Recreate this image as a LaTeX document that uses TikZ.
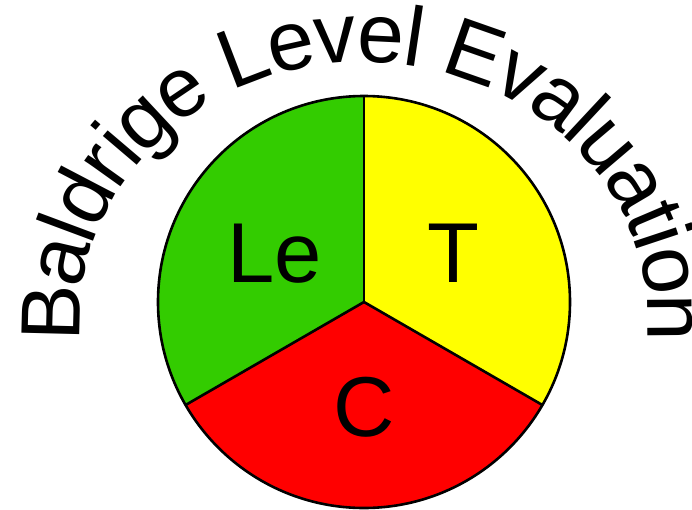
\documentclass[tikz,border=0pt]{standalone}
\usepackage{fontspec}
\setmainfont{Liberation Sans}
\usetikzlibrary{decorations.text,calc}
\definecolor{segGreen}{HTML}{33CC00}
\definecolor{segYellow}{HTML}{FFFF00}
\definecolor{segRed}{HTML}{FF0000}
\tikzset{
  sector/.style={draw=black, line width=2.6pt, line join=round},
  biglabel/.style={font=\fontsize{85pt}{96pt}\selectfont, inner sep=0pt, anchor=base}
}
\begin{document}
\begin{tikzpicture}[x=1pt,y=1pt]
\useasboundingbox (-364,-207) rectangle (328,302);
\coordinate (ctr) at (0,0);
\coordinate (ectr) at (0,-18);
\def\R{206}
% sectors
\fill[segGreen] (ctr) -- (90:\R) arc[start angle=90, end angle=210, radius=\R] -- cycle;
\fill[segYellow] (ctr) -- (-30:\R) arc[start angle=-30, end angle=90, radius=\R] -- cycle;
\fill[segRed] (ctr) -- (210:\R) arc[start angle=210, end angle=330, radius=\R] -- cycle;
\draw[sector] (ctr) -- (90:\R);
\draw[sector] (ctr) -- (210:\R);
\draw[sector] (ctr) -- (330:\R);
\draw[sector] (ctr) circle[radius=\R];
% labels
\node[biglabel] (le) at (-89,20) {Le};
\node[biglabel] (t) at (89,20) {T};
\node[biglabel] (c) at (0,-134) {C};
% arc title
\path[decorate, decoration={text along path, text align=fit to path, raise=-20pt,
  text={|\fontsize{84pt}{96pt}\selectfont|Baldrige Level Evaluation}}]
  ($(ectr)+(184.4:304 and 278)$) arc[start angle=184.4, end angle=-4.4, x radius=304, y radius=278];
\end{tikzpicture}
\end{document}
